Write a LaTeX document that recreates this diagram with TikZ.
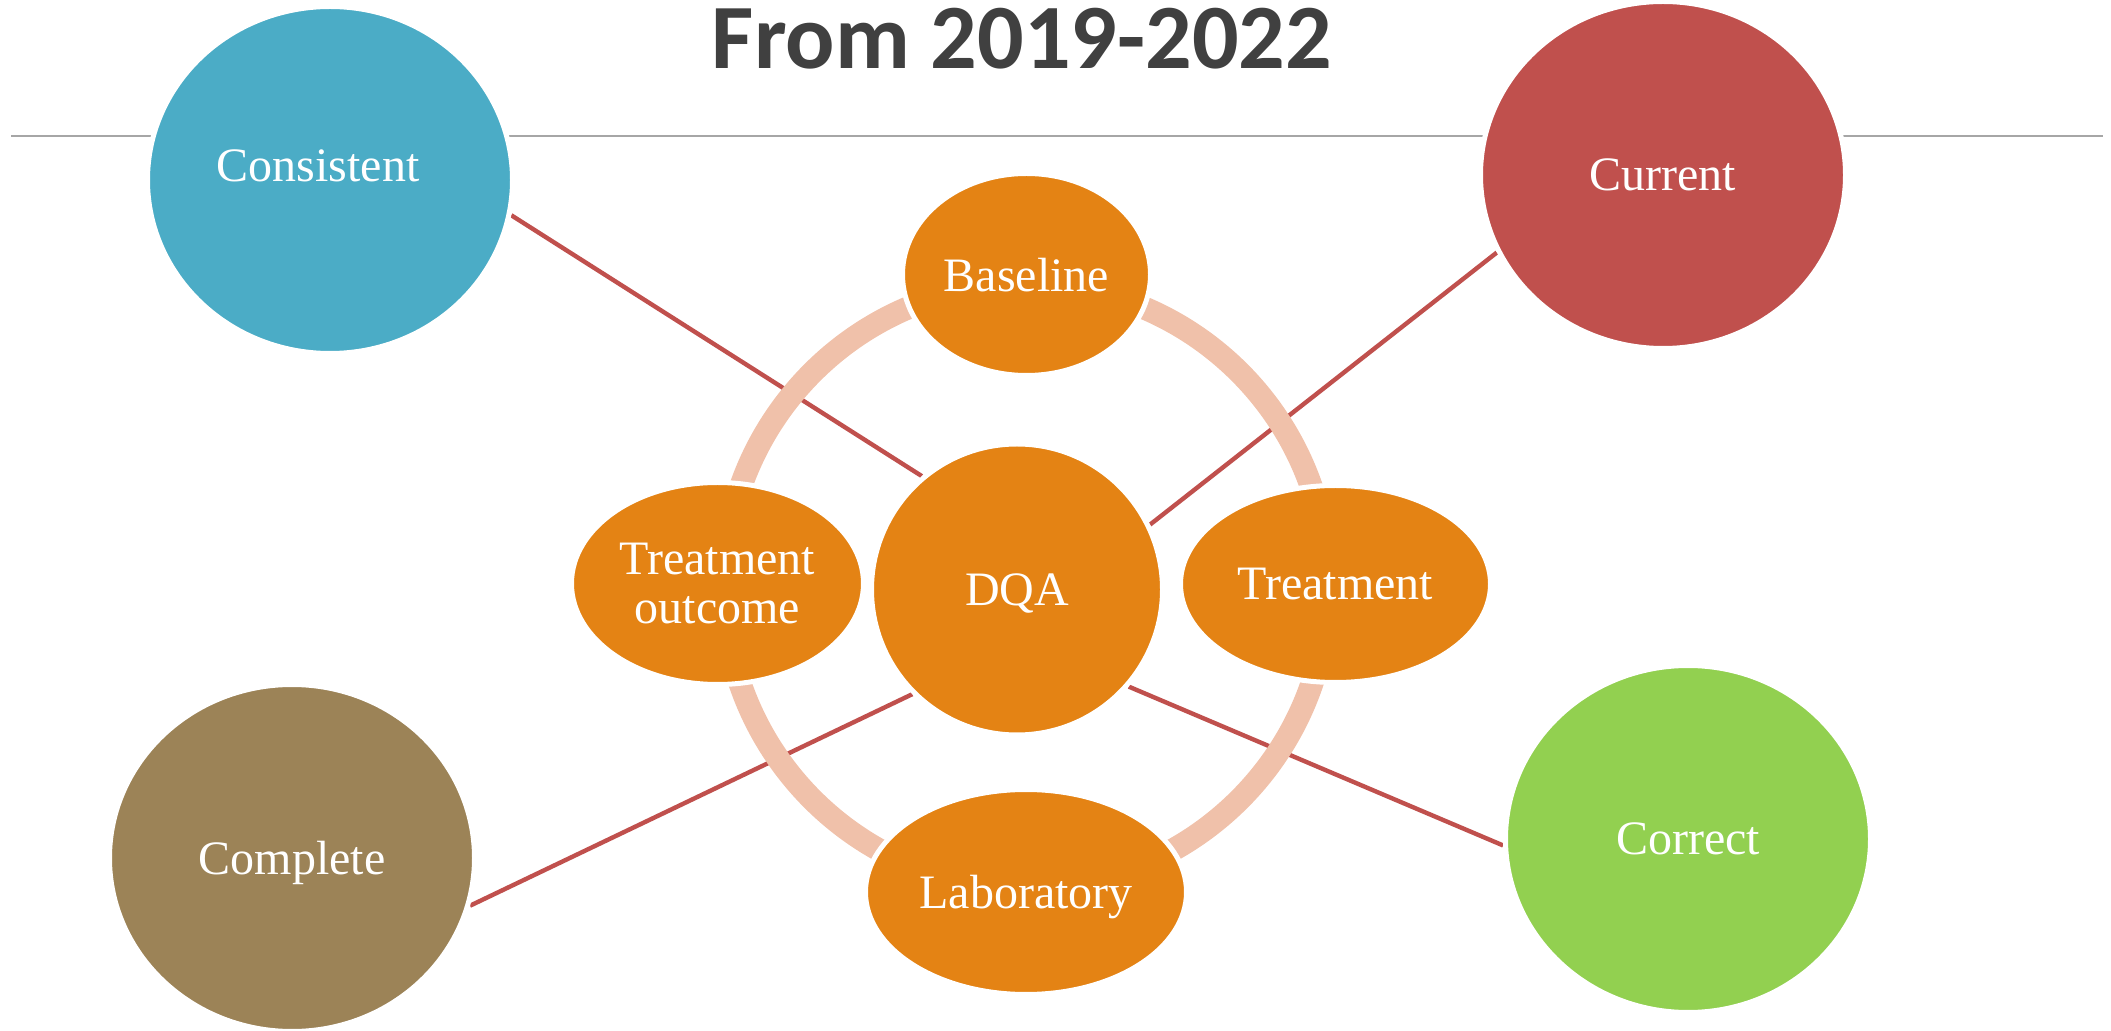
\documentclass[tikz,border=0pt]{standalone}
\usepackage{fontspec}
\setmainfont{Liberation Serif}
\newfontfamily\headfont{Carlito}
\usetikzlibrary{shapes.geometric}

\definecolor{titlegray}{HTML}{404040}
\definecolor{rulegray}{HTML}{A6A6A6}
\definecolor{linkred}{HTML}{C0504D}
\definecolor{ringpeach}{HTML}{F0C1AA}
\definecolor{hubOrange}{HTML}{E48314}
\definecolor{cblue}{HTML}{4BACC6}
\definecolor{cred}{HTML}{C0504D}
\definecolor{cbrown}{HTML}{9C8357}
\definecolor{cgreen}{HTML}{92D050}

\pgfdeclarelayer{background}
\pgfsetlayers{background,main}

\begin{document}
\begin{tikzpicture}[x=0.5pt,y=-0.5pt,
  bubble/.style={ellipse, draw=white, line width=2.5pt, inner sep=0pt,
    text=white, align=center, text depth=0pt, font=\fontsize{24}{24.5}\selectfont},
  outerbubble/.style={bubble, minimum width=182.5pt, minimum height=173.5pt},
  innerbubble/.style={bubble, fill=hubOrange},
  link/.style={draw=linkred, line width=2.2pt},
  ring/.style={draw=ringpeach, line width=11.5pt},
  rule/.style={draw=rulegray, line width=1pt},
]
\useasboundingbox (0,0) rectangle (2111,1031);

% heading
\node[anchor=base, text=titlegray, font=\headfont\bfseries\fontsize{46}{46}\selectfont]
  (title) at (1022,69) {From 2019-2022};

% the four quality dimensions
\node[outerbubble, fill=cblue]  (cons) at (330,180) {};
\node[text=white, text depth=0pt, font=\fontsize{24}{24.5}\selectfont] (consLabel) at (318,166) {Consistent};
\node[outerbubble, fill=cred]   (curr) at (1663,175) {Current};
\node[outerbubble, fill=cbrown] (comp) at (292,858) {Complete};
\node[outerbubble, fill=cgreen] (corr) at (1688,839) {Correct};

% central cycle
\node[innerbubble, minimum width=145.5pt, minimum height=145.5pt] (dqa) at (1017,589.5) {DQA};
\node[innerbubble, minimum width=124pt, minimum height=101pt] (base) at (1026.5,274.5) {Baseline};
\node[innerbubble, minimum width=146pt, minimum height=101pt] (outc) at (717.5,583.5) {Treatment\\outcome};
\node[innerbubble, minimum width=155pt, minimum height=98.5pt] (treat) at (1335.5,584) {Treatment};
\node[innerbubble, minimum width=160.5pt, minimum height=102.5pt] (lab) at (1026,892) {Laboratory};

\coordinate (ruleL) at (11,136);
\coordinate (ruleR) at (2103,136);
\coordinate (hub) at (1026,586);

\begin{pgfonlayer}{background}
  \draw[rule] (ruleL) -- (ruleR);
  \draw[link] (cons.-11.9) -- (dqa.130.9);
  \draw[link] (curr.-155.4) -- (dqa.26.4);
  \draw[link] (comp.-15.3) -- (dqa.225);
  \draw[link] (corr.182.2) -- (dqa.-41.2);
  \draw[ring] (hub) circle[radius=302];
\end{pgfonlayer}
\end{tikzpicture}
\end{document}
